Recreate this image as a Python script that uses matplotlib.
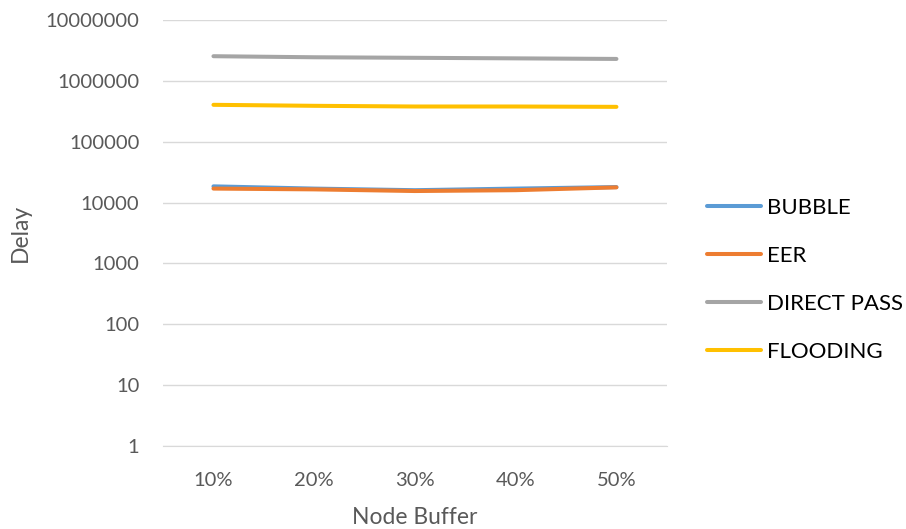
import matplotlib
matplotlib.use("Agg")
import matplotlib.pyplot as plt
from matplotlib.ticker import FixedLocator, FixedFormatter, NullLocator

plt.rcParams['font.family'] = ['Lato', 'DejaVu Sans']

categories = ["10%", "20%", "30%", "40%", "50%"]
bubble = [18500, 17000, 16000, 17000, 18000]
eer = [17000, 16500, 15500, 16000, 17800]
direct_pass = [2550000, 2450000, 2400000, 2350000, 2300000]
flooding = [405000, 390000, 380000, 380000, 375000]

series = [
    ("BUBBLE", bubble, "#5b9bd5"),
    ("EER", eer, "#ed7d31"),
    ("DIRECT PASS", direct_pass, "#a5a5a5"),
    ("FLOODING", flooding, "#ffc000"),
]

y_ticks = [1, 10, 100, 1000, 10000, 100000, 1000000, 10000000]
y_tick_labels = [str(v) for v in y_ticks]

fig = plt.figure(figsize=(9.06, 5.29), dpi=100)
ax = fig.add_axes([0.18, 0.157, 0.556, 0.805])

x = list(range(len(categories)))
for name, vals, color in series:
    ax.plot(x, vals, color=color, lw=2.9, label=name, solid_capstyle="round")

ax.set_yscale("log")
ax.set_ylim(1, 10000000)
ax.set_xlim(-0.5, len(categories) - 0.5)
ax.yaxis.set_major_locator(FixedLocator(y_ticks))
ax.yaxis.set_major_formatter(FixedFormatter(y_tick_labels))
ax.yaxis.set_minor_locator(NullLocator())
ax.set_xticks(x)
ax.set_xticklabels(categories)

ax.grid(axis="y", color="#d9d9d9", lw=1)
ax.set_axisbelow(True)
for s in ["top", "right", "left"]:
    ax.spines[s].set_visible(False)
ax.spines["bottom"].set_color("#d9d9d9")
ax.tick_params(axis="both", length=0, labelsize=14.5, colors="#595959")
ax.tick_params(axis="x", pad=19)
ax.tick_params(axis="y", pad=17)

ax.set_xlabel("Node Buffer", fontsize=16.5, color="#595959", labelpad=13)
ax.set_ylabel("Delay", fontsize=16.5, color="#595959", labelpad=10.5)

fig.legend(loc="upper left", bbox_to_anchor=(0.770, 0.642), frameon=False,
           fontsize=16, handlelength=2.43, handletextpad=0.27,
           labelspacing=1.255, borderaxespad=0)

fig.savefig("out.png", dpi=100)
